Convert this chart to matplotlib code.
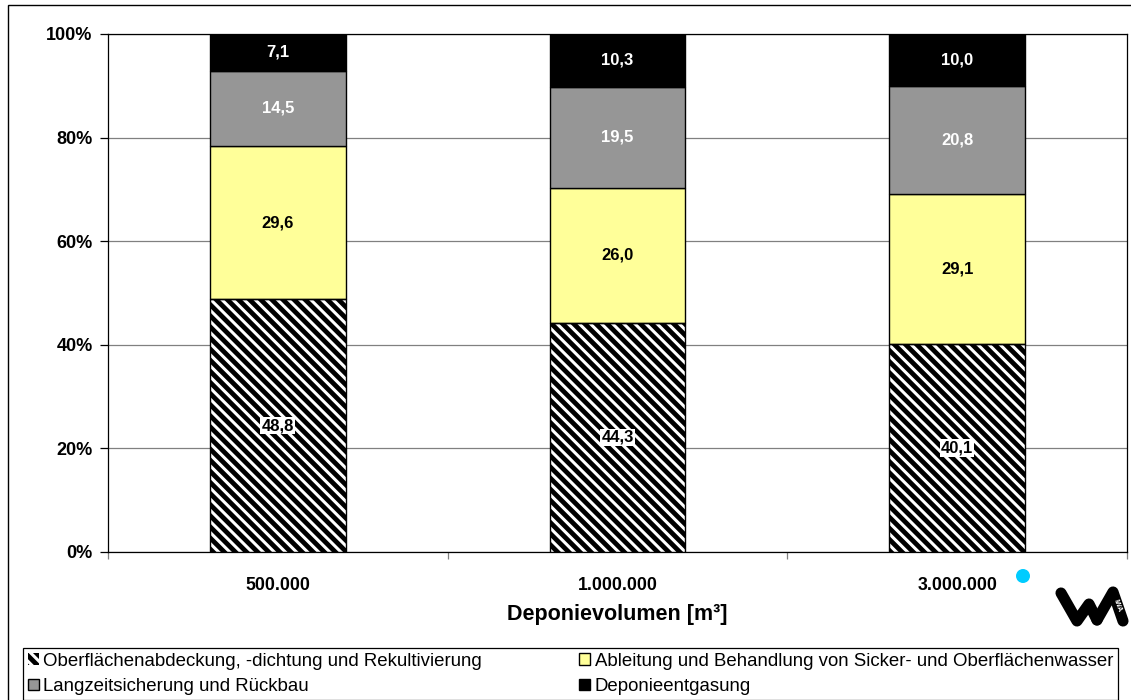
import numpy as np
import matplotlib
matplotlib.use("Agg")
import matplotlib.pyplot as plt
from matplotlib.patches import Rectangle, Circle
from matplotlib.lines import Line2D

plt.rcParams['font.family'] = ['Liberation Sans', 'DejaVu Sans']
plt.rcParams['hatch.linewidth'] = 2.2

# Daten (Anteile in %)
volumes = ["500.000", "1.000.000", "3.000.000"]
categories = [
    "Oberflächenabdeckung, -dichtung und Rekultivierung",
    "Ableitung und Behandlung von Sicker- und Oberflächenwasser",
    "Langzeitsicherung und Rückbau",
    "Deponieentgasung",
]
abdeckung = [48.8, 44.3, 40.1]
wasser = [29.6, 26.0, 29.1]
langzeit = [14.5, 19.5, 20.8]
entgasung = [7.1, 10.3, 10.0]
y_ticks = [0, 20, 40, 60, 80, 100]

W, H = 1131, 700
fig = plt.figure(figsize=(W / 100, H / 100), dpi=100)
px = fig.dpi_scale_trans  # Koordinaten in Zoll (1 Zoll = 100 px)

# äußerer Rahmen
fig.patches.append(Rectangle((8 / W, -0.1), 1.2, 1.1 - 5 / H, transform=fig.transFigure,
                             fill=False, edgecolor='black', linewidth=1.0))

ax = fig.add_axes([108 / W, 1 - 552 / H, (1127 - 108) / W, (552 - 34) / H])

x = np.arange(len(volumes))
bw = 0.4
series = [abdeckung, wasser, langzeit, entgasung]
colors = ['black', '#FFFF99', '#969696', 'black']
txt_colors = ['black', 'black', 'white', 'white']

bottom = np.zeros(len(volumes))
handles = []
for i, vals in enumerate(series):
    vals = np.array(vals)
    if i == 0:
        h = ax.bar(x, vals, bw, bottom=bottom, color='black', edgecolor='white',
                   hatch='\\\\\\', linewidth=0, zorder=3)
        ax.bar(x, vals, bw, bottom=bottom, facecolor='none', edgecolor='black',
               linewidth=1.0, zorder=4)
    else:
        h = ax.bar(x, vals, bw, bottom=bottom, color=colors[i], edgecolor='black',
                   linewidth=1.0, zorder=3)
    handles.append(h)
    for xi, b, v in zip(x, bottom, vals):
        lbl = f"{v:.1f}".replace('.', ',')
        kw = {}
        if i == 0:
            kw['bbox'] = dict(facecolor='white', edgecolor='none', pad=0.8)
        ax.text(xi, b + v / 2, lbl, ha='center', va='center', fontsize=12,
                fontweight='bold', color=txt_colors[i], zorder=5, **kw)
    bottom = bottom + vals

ax.set_xlim(-0.5, len(volumes) - 0.5)
ax.set_ylim(0, 100)
ax.set_yticks(y_ticks)
ax.set_yticklabels([f"{t}%" for t in y_ticks], fontsize=13, fontweight='bold')
ax.yaxis.grid(True, color='#808080', linewidth=0.9, zorder=0)
ax.set_axisbelow(True)
ax.tick_params(axis='y', direction='out', length=6, width=0.9, pad=5)

ax.set_xticks(x)
ax.set_xticklabels(volumes, fontsize=12.8, fontweight='bold')
ax.set_xticks(np.arange(-0.5, len(volumes), 1.0), minor=True)
ax.tick_params(axis='x', which='major', length=0, pad=18)
ax.tick_params(axis='x', which='minor', direction='out', length=5, width=0.9, color='#808080')
ax.set_xlabel("Deponievolumen [m³]", fontsize=15.5, fontweight='bold', labelpad=7)

for s in ax.spines.values():
    s.set_linewidth(0.9)
    s.set_color('black')

# Legende (zeilenweise wie im Original)
leg_handles = [handles[0], handles[2], handles[1], handles[3]]
leg_labels = [categories[0], categories[2], categories[1], categories[3]]
leg = fig.legend(leg_handles, leg_labels, loc='upper left',
                 bbox_to_anchor=(23 / W, 1 - 648 / H), ncol=2, frameon=True,
                 fancybox=False, edgecolor='black', framealpha=1,
                 prop={'size': 13.4},
                 handlelength=0.6, handleheight=0.6, handletextpad=0.25,
                 columnspacing=5.2, borderpad=0.25, labelspacing=0.45,
                 borderaxespad=0)
leg.get_frame().set_linewidth(0.9)

# Logo (IWA)
fig.patches.append(Circle((10.23, 1.24), 0.07, transform=px,
                          facecolor='#00CCFF', edgecolor='none'))
fig.lines.append(Line2D([10.61, 10.77, 10.89, 10.97],
                        [1.07, 0.79, 0.96, 0.80],
                        transform=px, color='black', linewidth=8,
                        solid_capstyle='round', solid_joinstyle='round'))
fig.lines.append(Line2D([10.97, 11.13, 11.23],
                        [0.80, 1.08, 0.79],
                        transform=px, color='black', linewidth=8,
                        solid_capstyle='round', solid_joinstyle='round'))
fig.text(11.175, 0.94, "IWA", transform=px, rotation=-70, color='white', fontsize=5,
         fontweight='bold', ha='center', va='center')

fig.savefig("out.png", dpi=100)
